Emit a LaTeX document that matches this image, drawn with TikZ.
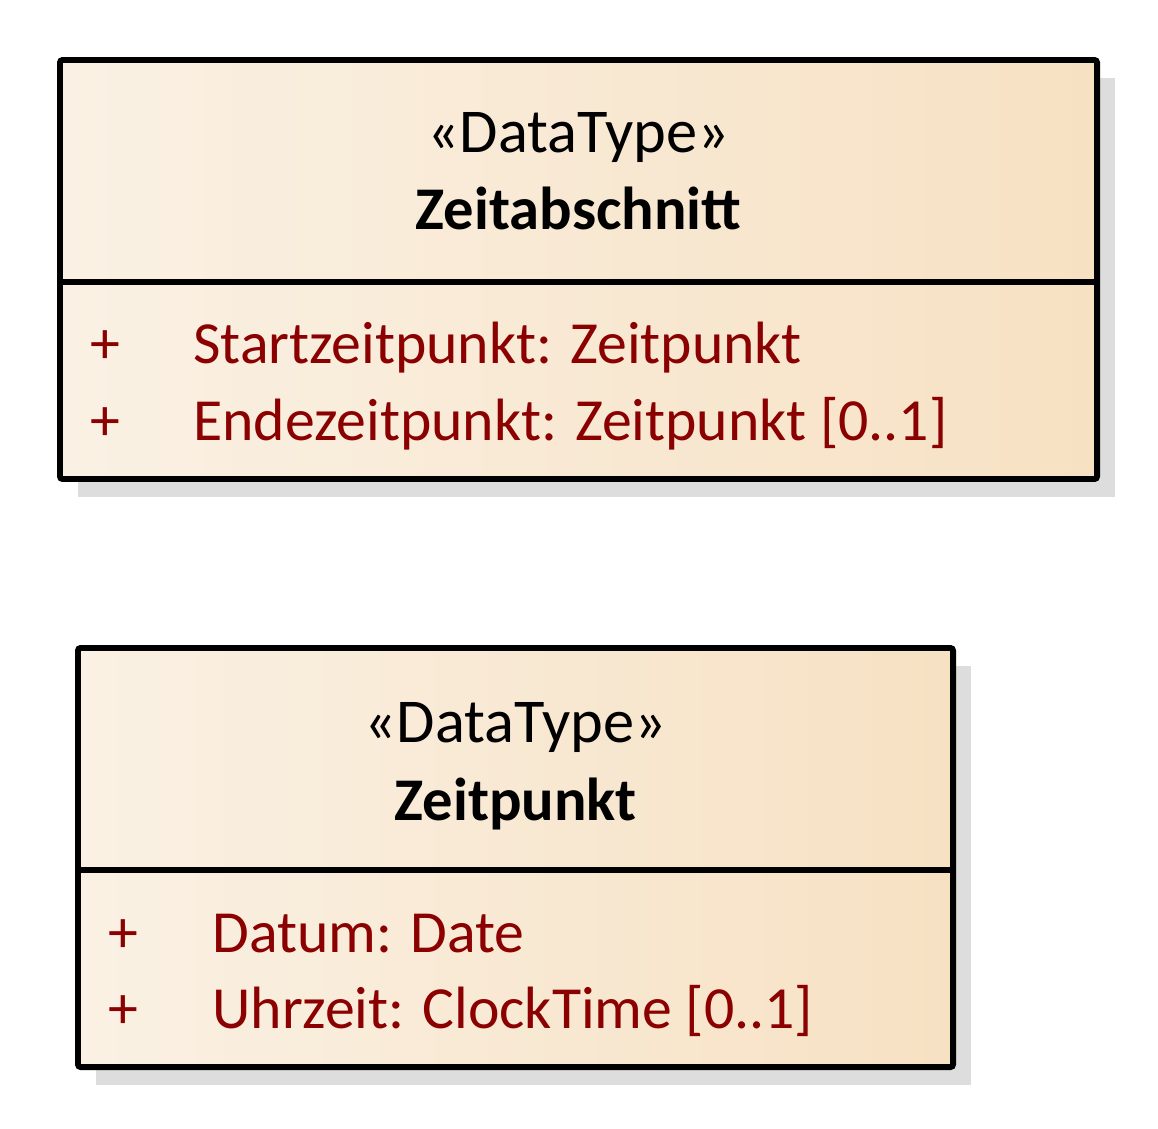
\documentclass[tikz,border=0pt]{standalone}
\usepackage{fontspec}
\setmainfont{Carlito}
\usetikzlibrary{positioning}
\definecolor{attrred}{RGB}{139,0,0}
\definecolor{boxleft}{RGB}{250,241,228}
\definecolor{boxright}{RGB}{247,225,195}
\definecolor{shadowgrey}{RGB}{221,221,221}

\begin{document}
\begin{tikzpicture}[x=0.02cm,y=-0.02cm,
        box/.style={line width=3.4pt,rounded corners=1.5pt,left color=boxleft,right color=boxright},
        boxline/.style={line width=3.4pt},
        shadowbox/.style={fill=shadowgrey},
        txt/.style={inner sep=0pt,font=\fontsize{34}{40}\selectfont},
        stereo/.style={txt,anchor=base,font=\fontsize{35.5}{40}\selectfont},
        cname/.style={txt,anchor=base,font=\fontsize{34.5}{40}\selectfont\bfseries},
        vis/.style={txt,anchor=base,text=attrred},
        attr/.style={txt,anchor=base west,text=attrred}]
        \useasboundingbox (0,0) rectangle (1158,1128);

        % Zeitabschnitt
        \fill[shadowbox] (78,78) rectangle (1115,497);
        \draw[box] (60,60) rectangle (1097,479);
        \draw[boxline] (60,282) -- (1097,282);
        \node[stereo] (zaStereo) at (578.5,153) {«DataType»};
        \node[cname]  (zaName)   at (578.5,230) {Zeitabschnitt};
        \node[vis]    (zaVis1)   at (105,363)   {+};
        \node[attr]   (zaAttr1)  at (193,363)   {Startzeitpunkt: Zeitpunkt};
        \node[vis]    (zaVis2)   at (105,440)   {+};
        \node[attr]   (zaAttr2)  at (193,440)   {Endezeitpunkt: Zeitpunkt [0..1]};

        % Zeitpunkt
        \fill[shadowbox] (96,666) rectangle (971,1085);
        \draw[box] (78,648) rectangle (953,1067);
        \draw[boxline] (78,870) -- (953,870);
        \node[stereo] (zpStereo) at (515.5,742) {«DataType»};
        \node[cname]  (zpName)   at (515.5,820) {Zeitpunkt};
        \node[vis]    (zpVis1)   at (123,952)   {+};
        \node[attr]   (zpAttr1)  at (212,952)   {Datum: Date};
        \node[vis]    (zpVis2)   at (123,1028)  {+};
        \node[attr]   (zpAttr2)  at (212,1028)  {Uhrzeit: ClockTime [0..1]};
\end{tikzpicture}
\end{document}
